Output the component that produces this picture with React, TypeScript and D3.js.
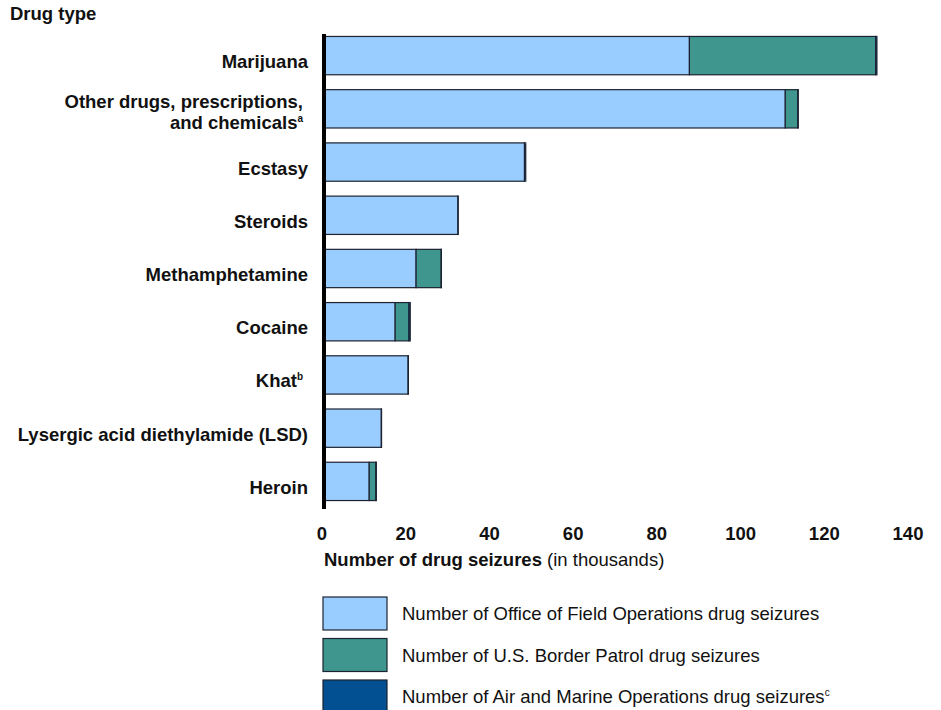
import React from "react";
import * as d3 from "d3";

const categories = [
  "Marijuana",
  "Other drugs, prescriptions,|and chemicals",
  "Ecstasy",
  "Steroids",
  "Methamphetamine",
  "Cocaine",
  "Khat",
  "Lysergic acid diethylamide (LSD)",
  "Heroin",
];
const superscripts = ["", "a", "", "", "", "", "b", "", ""];
const ofoValues = [87.3, 110.2, 47.9, 32.0, 22.0, 17.0, 20.1, 13.7, 10.8];
const bpValues = [44.5, 3.0, 0.0, 0.0, 6.0, 3.3, 0.0, 0.0, 1.6];
const amoValues = [0.3, 0.1, 0.3, 0.05, 0.05, 0.3, 0.05, 0.05, 0.1];
const xTicks = [0, 20, 40, 60, 80, 100, 120, 140];
const seriesNames = [
  "Number of Office of Field Operations drug seizures",
  "Number of U.S. Border Patrol drug seizures",
  "Number of Air and Marine Operations drug seizures",
];
const seriesSup = ["", "", "c"];
const colors = ["#99ccff", "#3f968e", "#024f92"];

const W = 941;
const H = 710;
const FONT = "Liberation Sans, Arial, sans-serif";
const FS = 18.5;

export default function App() {
  const x = d3.scaleLinear().domain([0, 140]).range([324, 910]);
  const y = d3
    .scaleBand<string>()
    .domain(categories)
    .range([29, 508])
    .paddingInner(0.28)
    .paddingOuter(0.14);

  const rows = categories.map((c, i) => ({
    key: c,
    values: [ofoValues[i], bpValues[i], amoValues[i]],
  }));
  const stack = d3.stack<any>().keys(["0", "1", "2"]).value((d, k) => d.values[+k]);
  const series = stack(rows);

  const bw = y.bandwidth();

  return (
    <div style={{ position: "absolute", left: 0, top: 0 }}>
      <svg width={W} height={H} style={{ display: "block" }} fontFamily={FONT}>
        <rect width={W} height={H} fill="#fff" />
        <text x={10} y={20} fontSize={FS} fontWeight="bold" fill="#111">
          Drug type
        </text>
        {series.map((s, si) =>
          s.map((d, i) => {
            const w = x(d[1]) - x(d[0]);
            if (w <= 0) return null;
            return (
              <rect
                key={si + "-" + i}
                x={x(d[0])}
                y={y(categories[i])}
                width={w}
                height={bw}
                fill={colors[si]}
                stroke="#1c2230"
                strokeWidth={1.2}
              />
            );
          })
        )}
        {/* category labels */}
        {categories.map((c, i) => {
          const lines = c.split("|");
          const cy = (y(c) as number) + bw / 2;
          const baselines =
            lines.length === 1 ? [cy + 12.5] : [cy - 1, cy + 20.5];
          const tx = superscripts[i] ? 303 : 308;
          return (
            <text
              key={c}
              textAnchor="end"
              fontSize={FS}
              fontWeight="bold"
              fill="#111"
              x={tx}
            >
              {lines.map((l, li) => (
                <tspan key={li} x={tx} y={baselines[li]}>
                  {l}
                  {li === lines.length - 1 && superscripts[i] ? (
                    <tspan fontSize={10} dy={-7}>
                      {superscripts[i]}
                    </tspan>
                  ) : null}
                </tspan>
              ))}
            </text>
          );
        })}
        {/* axis line */}
        <line x1={324} x2={324} y1={34} y2={509} stroke="#000" strokeWidth={4} />
        {/* ticks */}
        {xTicks.map((t) => (
          <text
            key={t}
            x={x(t) - 2}
            y={540}
            textAnchor="middle"
            fontSize={FS}
            fontWeight="bold"
            fill="#111"
          >
            {t}
          </text>
        ))}
        <text x={324} y={566} fontSize={FS} fill="#111">
          <tspan fontWeight="bold">Number of drug seizures</tspan>
          <tspan> (in thousands)</tspan>
        </text>
        {/* legend */}
        {seriesNames.map((n, i) => (
          <g key={n} transform={`translate(323, ${597 + i * 41.5})`}>
            <rect width={64} height={33} fill={colors[i]} stroke="#1c2230" strokeWidth={1.2} />
            <text x={79} y={23} fontSize={FS} fill="#111">
              {n}
              {seriesSup[i] ? (
                <tspan fontSize={10} dy={-7}>
                  {seriesSup[i]}
                </tspan>
              ) : null}
            </text>
          </g>
        ))}
      </svg>
    </div>
  );
}
